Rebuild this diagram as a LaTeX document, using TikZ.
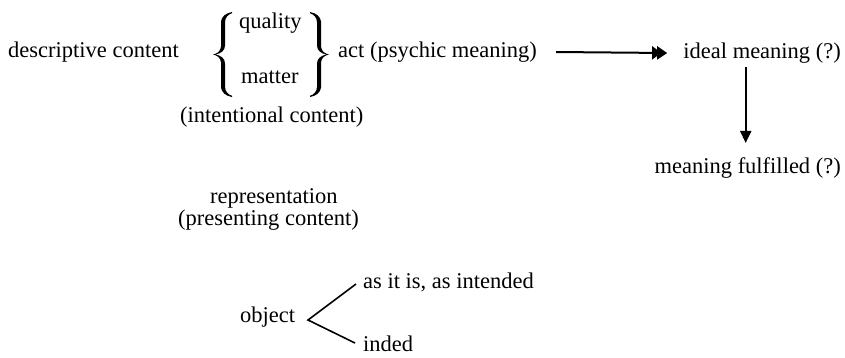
\documentclass[tikz,border=0pt]{standalone}
\usepackage{fontspec}
\setmainfont{Liberation Serif}
\usetikzlibrary{arrows.meta}
\tikzset{
  lbl/.style={inner sep=0pt, anchor=base west, font=\fontsize{22.5}{26}\selectfont},
  rlbl/.style={lbl, anchor=base east},
  harr/.style={line width=2pt, -{Triangle[length=9pt,width=13pt,sep=-4pt]Triangle[length=10pt,width=13pt]}},
  varr/.style={line width=2pt, -{Triangle[length=12pt,width=11pt]}},
  branch/.style={line width=1.6pt},
  bracepic/.pic={
    \fill (19,42.5)
      .. controls (13,41.5) and (8.5,38) .. (8,33)
      -- (8,8)
      .. controls (7.5,3) and (4,0.8) .. (0,0)
      .. controls (4,-0.8) and (7.5,-3) .. (8,-8)
      -- (8,-33)
      .. controls (8.5,-38) and (13,-41.5) .. (19,-42.5)
      -- (19,-41.3)
      .. controls (15,-40) and (12,-37) .. (12,-32)
      -- (12,-9)
      .. controls (12,-4) and (8,-1) .. (2.5,0)
      .. controls (8,1) and (12,4) .. (12,9)
      -- (12,32)
      .. controls (12,37) and (15,40) .. (19,41.3)
      -- cycle;
  }
}
\begin{document}
\begin{tikzpicture}[x=1pt,y=1pt]
\useasboundingbox (0,0) rectangle (845,-357);
\node[lbl] (desc) at (8,-57) {descriptive content};
\node[lbl] (quality) at (239,-28) {quality};
\node[lbl] (matter) at (241,-83) {matter};
\pic at (213,-54.5) {bracepic};
\pic[xscale=-1] at (329,-54.5) {bracepic};
\node[lbl] (act) at (338,-57) {act (psychic meaning)};
\node[rlbl] (ideal) at (841,-58) {ideal meaning (?)};
\node[rlbl] (fulfilled) at (841,-173) {meaning fulfilled (?)};
\node[lbl] (intentional) at (180,-122) {(intentional content)};
\node[lbl] (representation) at (210,-203) {representation};
\node[lbl] (presenting) at (178,-225) {(presenting content)};
\node[lbl] (object) at (240,-322) {object};
\node[lbl] (asitis) at (363,-288) {as it is, as intended};
\node[lbl] (inded) at (363,-351) {inded};
\coordinate (v) at (308,-320);
\draw[harr] ([xshift=19pt,yshift=5pt]act.base east) -- ([xshift=-16pt,yshift=5pt]ideal.base west);
\draw[varr, shorten <=4pt, shorten >=14pt] ([xshift=-2pt]fulfilled.north |- ideal.south) -- ([xshift=-2pt]fulfilled.north);
\draw[branch] ([xshift=-7pt,yshift=4pt]asitis.base west) -- (v) -- ([xshift=-8pt,yshift=8pt]inded.base west);
\end{tikzpicture}
\end{document}
